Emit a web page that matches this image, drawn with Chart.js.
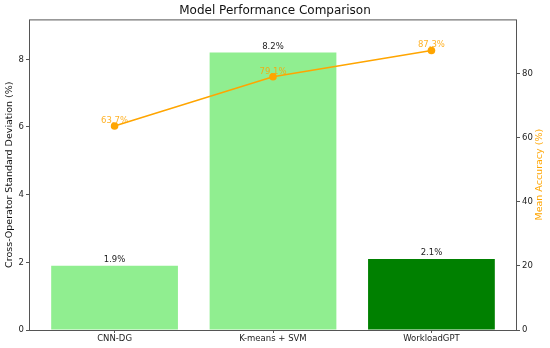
<!DOCTYPE html>
<html>
<head>
<meta charset="utf-8">
<script src="https://cdn.jsdelivr.net/npm/chart.js@4"></script>
<style>
  html, body { margin: 0; padding: 0; background: #fff; }
  #wrap { width: 550px; height: 348px; }
</style>
</head>
<body>
<div id="wrap"><canvas id="chart"></canvas></div>
<script>
// chart data
const models = ['CNN-DG', 'K-means + SVM', 'WorkloadGPT'];
const stdDeviation = [1.9, 8.2, 2.1];
const meanAccuracy = [63.7, 79.1, 87.3];
const barColors = ['#90EE90', '#90EE90', '#008000'];
const leftTicks = [0, 2, 4, 6, 8];
const rightTicks = [0, 20, 40, 60, 80];

const FONT = 'DejaVu Sans';
const ORANGE = '#FFA500';
const SPINE = '#555';

// value labels above bars and points, the box frame, and the right axis title
const labelPlugin = {
    id: 'labels',
    afterDatasetsDraw(chart) {
        const ctx = chart.ctx;
        const area = chart.chartArea;
        ctx.save();
        ctx.strokeStyle = SPINE;
        ctx.lineWidth = 1;
        ctx.strokeRect(area.left + 0.5, area.top + 0.5, area.right - area.left - 1, area.bottom - area.top);
        ctx.font = '8.5px "' + FONT + '"';
        ctx.textAlign = 'center';
        ctx.textBaseline = 'bottom';
        chart.getDatasetMeta(0).data.forEach((bar, i) => {
            ctx.fillStyle = '#222';
            ctx.fillText(stdDeviation[i].toFixed(1) + '%', bar.x, bar.y - 2);
        });
        chart.getDatasetMeta(1).data.forEach((pt, i) => {
            ctx.fillStyle = 'rgba(255,165,0,0.85)';
            ctx.fillText(meanAccuracy[i].toFixed(1) + '%', pt.x, pt.y - 1);
        });

        // matplotlib keeps the twin axis label reading bottom to top
        const r = chart.scales.y1;
        ctx.translate(r.right - 10, (area.top + area.bottom) / 2);
        ctx.rotate(-Math.PI / 2);
        ctx.font = '9.5px "' + FONT + '"';
        ctx.textBaseline = 'middle';
        ctx.fillStyle = ORANGE;
        ctx.fillText('Mean Accuracy (%)', 0, 0);
        ctx.restore();
    }
};

new Chart(document.getElementById('chart'), {
    type: 'bar',
    data: {
        datasets: [{
            type: 'bar',
            label: 'Cross-Operator Standard Deviation (%)',
            data: stdDeviation.map((v, i) => ({ x: i, y: v })),
            backgroundColor: barColors,
            borderWidth: 0,
            categoryPercentage: 1,
            barPercentage: 0.8,
            yAxisID: 'y',
            order: 2
        }, {
            type: 'line',
            label: 'Mean Accuracy (%)',
            data: meanAccuracy.map((v, i) => ({ x: i, y: v })),
            borderColor: ORANGE,
            backgroundColor: ORANGE,
            borderWidth: 1.6,
            pointRadius: 3.8,
            pointBorderWidth: 0,
            tension: 0,
            yAxisID: 'y1',
            order: 1
        }]
    },
    options: {
        responsive: true,
        maintainAspectRatio: false,
        animation: false,
        layout: { padding: 0 },
        plugins: {
            legend: { display: false },
            tooltip: { enabled: false },
            title: {
                display: true,
                text: 'Model Performance Comparison',
                color: '#111',
                font: { family: FONT, size: 12, weight: 'normal' },
                padding: { top: 4, bottom: 1 }
            }
        },
        scales: {
            x: {
                type: 'linear',
                offset: false,
                min: -0.54,
                max: 2.54,
                afterBuildTicks: s => { s.ticks = models.map((m, i) => ({ value: i })); },
                afterFit: s => { s.height = 18; },
                border: { display: false },
                grid: { offset: false, drawOnChartArea: false, tickLength: 3, tickColor: SPINE },
                ticks: {
                    padding: 1,
                    maxRotation: 0,
                    color: '#222',
                    font: { family: FONT, size: 8.5 },
                    callback: v => models[v]
                }
            },
            y: {
                position: 'left',
                min: 0,
                max: 9.18,
                afterBuildTicks: s => { s.ticks = leftTicks.map(v => ({ value: v })); },
                afterFit: s => { s.width = 29; },
                border: { display: false },
                grid: { drawOnChartArea: false, tickLength: 3, tickColor: SPINE },
                ticks: { padding: 2, color: '#222', font: { family: FONT, size: 8.5 } },
                title: {
                    display: true,
                    text: 'Cross-Operator Standard Deviation (%)',
                    color: '#111',
                    font: { family: FONT, size: 9.5 },
                    padding: { top: 4, bottom: 2 }
                }
            },
            y1: {
                position: 'right',
                min: 0,
                max: 97,
                afterBuildTicks: s => { s.ticks = rightTicks.map(v => ({ value: v })); },
                afterFit: s => { s.width = 33; },
                border: { display: false },
                grid: { drawOnChartArea: false, tickLength: 3, tickColor: SPINE },
                ticks: { padding: 2, color: '#222', font: { family: FONT, size: 8.5 } }
            }
        }
    },
    plugins: [labelPlugin]
});
</script>
</body>
</html>
